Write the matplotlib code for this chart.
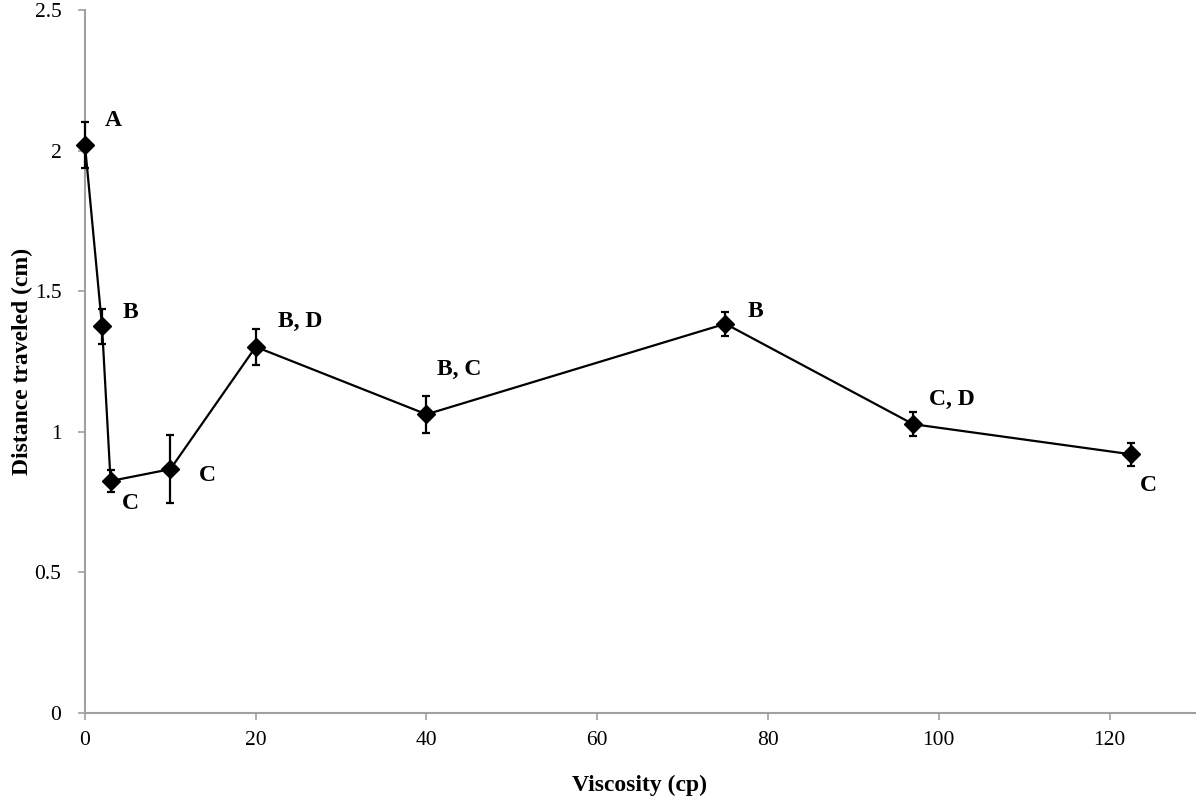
import numpy as np
import matplotlib.pyplot as plt

plt.rcParams['font.family'] = ['Liberation Serif', 'DejaVu Serif']

viscosity = [0, 2, 3, 10, 20, 40, 75, 97, 122.5]
distance = [2.02, 1.375, 0.825, 0.867, 1.302, 1.062, 1.384, 1.027, 0.92]
err = [0.083, 0.062, 0.04, 0.121, 0.064, 0.066, 0.043, 0.043, 0.04]
letters = ["A", "B", "C", "C", "B, D", "B, C", "B", "C, D", "C"]
# label offsets in pixels, relative to each point
offsets = [(28, 24), (28, 14), (20, -23), (37, -6), (44, 25), (33, 45), (30, 12), (39, 25), (17, -31)]

fig = plt.figure(figsize=(12, 7.99), dpi=100)
ax = fig.add_axes([0.0708, 0.1076, 0.925, 0.88])

ax.errorbar(viscosity, distance, yerr=err, fmt='-D', color='black', ms=9,
            lw=1.6, elinewidth=1.6, capsize=3, capthick=1.6, clip_on=False, zorder=3)

for x, y, t, (dx, dy) in zip(viscosity, distance, letters, offsets):
    ax.annotate(t, (x, y), xytext=(dx * 0.72, dy * 0.72), textcoords='offset points',
                ha='center', va='center', fontsize=17, fontweight='bold')

ax.set_xlim(0, 130)
ax.set_ylim(0, 2.5)
ax.set_xticks(np.arange(0, 121, 20))
ax.set_yticks([0, 0.5, 1, 1.5, 2, 2.5])
ax.set_yticklabels(["0", "0.5", "1", "1.5", "2", "2.5"])

for s in ['top', 'right']:
    ax.spines[s].set_visible(False)
for s in ['left', 'bottom']:
    ax.spines[s].set_color('#a0a0a0')
    ax.spines[s].set_linewidth(1.5)
ax.tick_params(colors='#a0a0a0', labelcolor='black', labelsize=15.5, length=5, width=1.2)
ax.tick_params(axis='x', pad=8)
ax.tick_params(axis='y', pad=12)

ax.set_xlabel("Viscosity (cp)", fontsize=17, fontweight='bold', labelpad=18)
ax.set_ylabel("Distance traveled (cm)", fontsize=17, fontweight='bold', labelpad=1)

fig.savefig("out.png", dpi=100)
